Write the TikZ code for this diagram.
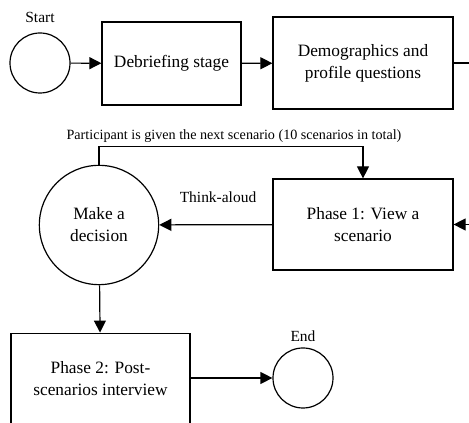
\documentclass[tikz,border=0pt]{standalone}
\usepackage{fontspec}
\setmainfont{Liberation Serif}
\usetikzlibrary{arrows.meta}

\begin{document}
\begin{tikzpicture}[x=0.75pt,y=-0.75pt,
  box/.style={draw,line width=0.9pt,align=center,inner sep=0pt,font=\fontsize{13}{16.5}\selectfont},
  circ/.style={draw,circle,line width=0.9pt,inner sep=0pt,align=center,font=\fontsize{13}{16.5}\selectfont},
  arr/.style={line width=0.9pt,-{Triangle[length=9pt,width=9pt]}},
  lbl/.style={inner sep=0pt,font=\fontsize{11.6}{14}\selectfont}]
\useasboundingbox (0,0) rectangle (469,423);

\node[circ,minimum size=45pt] (start) at (40,63) {};
\node[lbl] (startlbl) at (40,17) {Start};
\node[box,minimum width=104.25pt,minimum height=62.25pt] (debrief) at (171.5,63.5) {Debriefing stage};
\node[box,minimum width=135pt,minimum height=69pt] (demog) at (363,63) {Demographics and\\profile questions};

\node[circ,minimum size=89.5pt] (decide) at (99,225) {Make a\\decision};
\node[box,minimum width=135pt,minimum height=68.25pt] (phase1) at (363,224.5) {Phase 1: View a\\scenario};

\node[box,minimum width=134.25pt,minimum height=68pt] (phase2) at (100.5,378.5) {Phase 2: Post-\\scenarios interview};
\node[circ,minimum size=45pt] (finish) at (303,378) {};
\node[lbl] (endlbl) at (303,336) {End};

\node[lbl,font=\fontsize{10.6}{13}\selectfont] (looplbl) at (234,136) {Participant is given the next scenario (10 scenarios in total)};
\node[lbl] (thinklbl) at (218,197) {Think-aloud};

\draw[arr] (start) -- (debrief);
\draw[arr] (debrief) -- (demog);
\draw[arr] (demog.east) -- ++(20,0) |- (phase1.east);
\draw[arr] (phase1) -- (decide);
\draw[arr] (decide.north) -- ++(0,-18) -| (phase1.north);
\draw[arr] (decide) -- (phase2);
\draw[arr] (phase2.east |- finish) -- (finish);
\end{tikzpicture}
\end{document}
